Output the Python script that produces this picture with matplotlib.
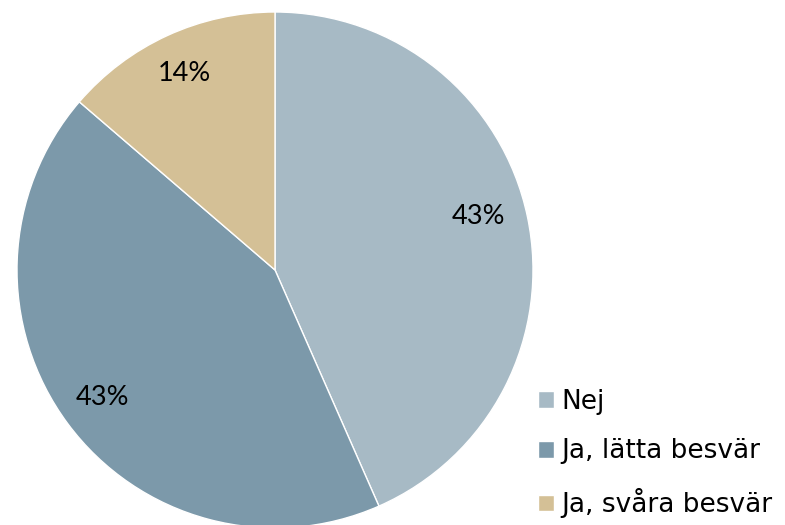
import matplotlib
matplotlib.use("Agg")
import matplotlib.pyplot as plt
import numpy as np

categories = ["Nej", "Ja, lätta besvär", "Ja, svåra besvär"]
values = [43.4, 42.9, 13.7]
labels_pct = ["43%", "43%", "14%"]
colors = ["#A7BAC5", "#7C99AA", "#D4C096"]

W, H = 785, 525
fig = plt.figure(figsize=(W / 100, H / 100), dpi=100)
ax = fig.add_axes([0, 0, 1, 1])

cx, cy, R = 275, 255, 258
wedges, _ = ax.pie(values, colors=colors, startangle=90, counterclock=False,
                   center=(cx, cy), radius=R,
                   wedgeprops=dict(edgecolor="white", linewidth=1.0))
ax.set_xlim(0, W)
ax.set_ylim(0, H)
ax.set_aspect("equal")
ax.axis("off")

# percentage labels
label_r = [0.815, 0.83, 0.84]
angle_shift = [3.0, 0.0, 0.0]
for w, lab, rr, sh in zip(wedges, labels_pct, label_r, angle_shift):
    ang = np.deg2rad((w.theta1 + w.theta2) / 2 + sh)
    ax.text(cx + rr * R * np.cos(ang), cy + rr * R * np.sin(ang), lab,
            ha="center", va="center", fontsize=19.5, family="Lato", color="black")

leg = ax.legend(wedges, categories, loc="lower left",
                bbox_to_anchor=(514 / W, -17 / H), frameon=False,
                handlelength=0.6, handleheight=0.6,
                handletextpad=0.3, labelspacing=0.9,
                prop=dict(family="DejaVu Sans", size=19))

fig.savefig("out.png", dpi=100)
